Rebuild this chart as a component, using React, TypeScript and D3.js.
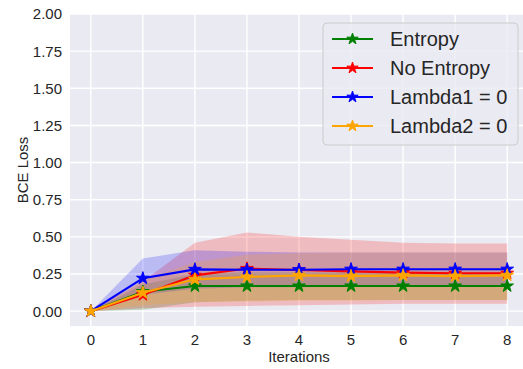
import React from "react";
import * as d3 from "d3";

const iterations = [0, 1, 2, 3, 4, 5, 6, 7, 8];
const seriesNames = ["Entropy", "No Entropy", "Lambda1 = 0", "Lambda2 = 0"];
const seriesColors = ["#008000", "#ff0000", "#0000ff", "#ffa500"];

const entropyMean = [0, 0.131, 0.169, 0.169, 0.169, 0.169, 0.169, 0.169, 0.169];
const entropyLow = [0, 0.01, 0.06, 0.07, 0.075, 0.075, 0.075, 0.075, 0.075];
const entropyHigh = [0, 0.18, 0.25, 0.26, 0.26, 0.26, 0.26, 0.26, 0.26];

const noEntropyMean = [0, 0.11, 0.241, 0.287, 0.277, 0.268, 0.259, 0.255, 0.255];
const noEntropyLow = [0, 0.02, 0.03, 0.035, 0.04, 0.045, 0.05, 0.05, 0.05];
const noEntropyHigh = [0, 0.2, 0.46, 0.53, 0.5, 0.48, 0.46, 0.455, 0.455];

const lambda1Mean = [0, 0.221, 0.281, 0.279, 0.279, 0.282, 0.282, 0.282, 0.282];
const lambda1Low = [0, 0.11, 0.15, 0.16, 0.16, 0.165, 0.165, 0.165, 0.165];
const lambda1High = [0, 0.355, 0.41, 0.4, 0.395, 0.395, 0.395, 0.395, 0.395];

const lambda2Mean = [0, 0.124, 0.214, 0.23, 0.241, 0.236, 0.241, 0.236, 0.241];
const lambda2Low = [0, 0.04, 0.06, 0.065, 0.07, 0.07, 0.075, 0.075, 0.075];
const lambda2High = [0, 0.21, 0.33, 0.38, 0.39, 0.395, 0.395, 0.395, 0.395];

const yTicks = [0, 0.25, 0.5, 0.75, 1.0, 1.25, 1.5, 1.75, 2.0];
const xTicks = [0, 1, 2, 3, 4, 5, 6, 7, 8];

const W = 523;
const H = 369;
const left = 70;
const right = 528;
const top = 14;
const bottom = 326;
const FONT = "'Liberation Sans', Arial, sans-serif";
const TXT = "#262626";

export default function App() {
  const x = d3.scaleLinear().domain([-0.4, 8.4]).range([left, right]);
  const y = d3.scaleLinear().domain([-0.1, 2.0]).range([bottom, top]);

  const series = [
    { mean: entropyMean, low: entropyLow, high: entropyHigh },
    { mean: noEntropyMean, low: noEntropyLow, high: noEntropyHigh },
    { mean: lambda1Mean, low: lambda1Low, high: lambda1High },
    { mean: lambda2Mean, low: lambda2Low, high: lambda2High },
  ];

  const line = d3
    .line<number>()
    .x((_, i) => x(iterations[i]))
    .y((d) => y(d));

  const star = d3.symbol().type(d3.symbolStar).size(50)();
  const starSmall = d3.symbol().type(d3.symbolStar).size(40)();

  const legendX = 323;
  const legendY = 23;
  const rowH = 29;

  return (
    <svg width={W} height={H} style={{ display: "block", position: "absolute", left: 0, top: 0 }}>
      <defs>
        <clipPath id="plotclip">
          <rect x={left} y={top} width={right - left} height={bottom - top} />
        </clipPath>
      </defs>
      <rect x={0} y={0} width={W} height={H} fill="#ffffff" />
      <rect x={left} y={top} width={right - left} height={bottom - top} fill="#eaeaf2" />
      {yTicks.map((t) => (
        <line key={"gy" + t} x1={left} x2={right} y1={y(t)} y2={y(t)} stroke="#ffffff" strokeWidth={1.4} />
      ))}
      {xTicks.map((t) => (
        <line key={"gx" + t} x1={x(t)} x2={x(t)} y1={top} y2={bottom} stroke="#ffffff" strokeWidth={1.4} />
      ))}
      <g clipPath="url(#plotclip)">
        {series.map((s, k) => {
          const area = d3
            .area<number>()
            .x((_, i) => x(iterations[i]))
            .y0((_, i) => y(s.low[i]))
            .y1((_, i) => y(s.high[i]));
          return (
            <path key={"a" + k} d={area(s.mean) || ""} fill={seriesColors[k]} fillOpacity={0.2} stroke="none" />
          );
        })}
        {series.map((s, k) => (
          <g key={"l" + k}>
            <path d={line(s.mean) || ""} fill="none" stroke={seriesColors[k]} strokeWidth={2.1} />
            {s.mean.map((v, i) => (
              <path
                key={i}
                d={star || ""}
                transform={`translate(${x(iterations[i])},${y(v)})`}
                fill={seriesColors[k]}
                stroke={seriesColors[k]}
                strokeWidth={1}
              />
            ))}
          </g>
        ))}
      </g>
      {yTicks.map((t) => (
        <text
          key={"ty" + t}
          x={left - 8}
          y={y(t)}
          dy="0.36em"
          textAnchor="end"
          fontFamily={FONT}
          fontSize={15}
          fill={TXT}
        >
          {t.toFixed(2)}
        </text>
      ))}
      {xTicks.map((t) => (
        <text
          key={"tx" + t}
          x={x(t)}
          y={345}
          textAnchor="middle"
          fontFamily={FONT}
          fontSize={15}
          fill={TXT}
        >
          {t}
        </text>
      ))}
      <text x={(left + right) / 2} y={361.5} textAnchor="middle" fontFamily={FONT} fontSize={15} fill={TXT}>
        Iterations
      </text>
      <text
        transform={`translate(28,${(top + bottom) / 2}) rotate(-90)`}
        textAnchor="middle"
        fontFamily={FONT}
        fontSize={15}
        fill={TXT}
      >
        BCE Loss
      </text>
      <g>
        <rect
          x={legendX}
          y={legendY}
          width={195}
          height={122}
          rx={4}
          fill="#eaeaf2"
          fillOpacity={0.8}
          stroke="#cccccc"
          strokeWidth={1}
        />
        {seriesNames.map((name, k) => {
          const cy = 39 + k * rowH;
          return (
            <g key={"lg" + k}>
              <line x1={332} x2={373} y1={cy} y2={cy} stroke={seriesColors[k]} strokeWidth={2.1} />
              <path
                d={starSmall || ""}
                transform={`translate(352.5,${cy})`}
                fill={seriesColors[k]}
                stroke={seriesColors[k]}
                strokeWidth={1}
              />
              <text x={390} y={cy} dy="0.36em" fontFamily={FONT} fontSize={20} fill={TXT}>
                {name}
              </text>
            </g>
          );
        })}
      </g>
    </svg>
  );
}
